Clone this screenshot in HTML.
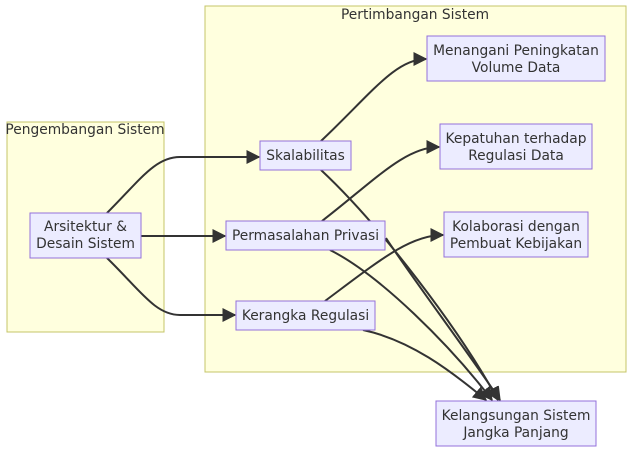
<!DOCTYPE html>
<html><head><style>
body{margin:0;background:#fff;}
svg{display:block;font-family:"DejaVu Sans","Liberation Sans",sans-serif;}
.c{fill:#ffffde;stroke:#c4c468;stroke-width:1;}
.n{fill:#ececff;stroke:#9370db;stroke-width:1;}
.e{fill:none;stroke:#333;stroke-width:2;}
text{font-size:13.8px;fill:#333;text-anchor:middle;}
</style></head><body>
<svg width="640" height="459" viewBox="0 0 640 459">
<defs><marker id="a" viewBox="0 0 10 10" refX="9" refY="5" markerWidth="7" markerHeight="7" orient="auto"><path d="M0,0L10,5L0,10z" fill="#333"/></marker></defs>
<rect class="c" x="7" y="122" width="157" height="210"/>
<rect class="c" x="205" y="6" width="421" height="366"/>
<text x="85" y="134">Pengembangan Sistem</text>
<text x="415" y="19">Pertimbangan Sistem</text>

<path class="e" marker-end="url(#a)" d="M107,213 C140,180 155,157 180,157 L259,157"/>
<path class="e" marker-end="url(#a)" d="M141,236 L225,236"/>
<path class="e" marker-end="url(#a)" d="M107,258 C140,290 155,315 180,315 L235,315"/>
<path class="e" marker-end="url(#a)" d="M321,141 C370,95 395,59 426,59"/>
<path class="e" marker-end="url(#a)" d="M322,221 C375,180 405,147 439,147"/>
<path class="e" marker-end="url(#a)" d="M325,301 C380,260 410,235 443,235"/>
<path class="e" marker-end="url(#a)" d="M321,170 C380,225 460,330 498,400"/>
<path class="e" marker-end="url(#a)" d="M386,238 C410,275 470,355 500,400"/>
<path class="e" marker-end="url(#a)" d="M330,250 C380,275 450,345 492,400"/>
<path class="e" marker-end="url(#a)" d="M363,330 C410,340 450,370 486,400"/>

<rect class="n" x="30" y="213" width="111" height="45"/>
<text x="85.5" y="231">Arsitektur &amp;</text><text x="85.5" y="248">Desain Sistem</text>
<rect class="n" x="260" y="141" width="91" height="29"/>
<text x="305.5" y="160">Skalabilitas</text>
<rect class="n" x="226" y="221" width="159" height="29"/>
<text x="305.5" y="240">Permasalahan Privasi</text>
<rect class="n" x="236" y="301" width="139" height="29"/>
<text x="305.5" y="320">Kerangka Regulasi</text>
<rect class="n" x="427" y="36" width="178" height="45"/>
<text x="516" y="55">Menangani Peningkatan</text><text x="516" y="72">Volume Data</text>
<rect class="n" x="440" y="124" width="152" height="45"/>
<text x="516" y="143">Kepatuhan terhadap</text><text x="516" y="160">Regulasi Data</text>
<rect class="n" x="444" y="212" width="144" height="45"/>
<text x="516" y="231">Kolaborasi dengan</text><text x="516" y="248">Pembuat Kebijakan</text>
<rect class="n" x="436" y="401" width="160" height="45"/>
<text x="516" y="420">Kelangsungan Sistem</text><text x="516" y="437">Jangka Panjang</text>
</svg>
</body></html>
